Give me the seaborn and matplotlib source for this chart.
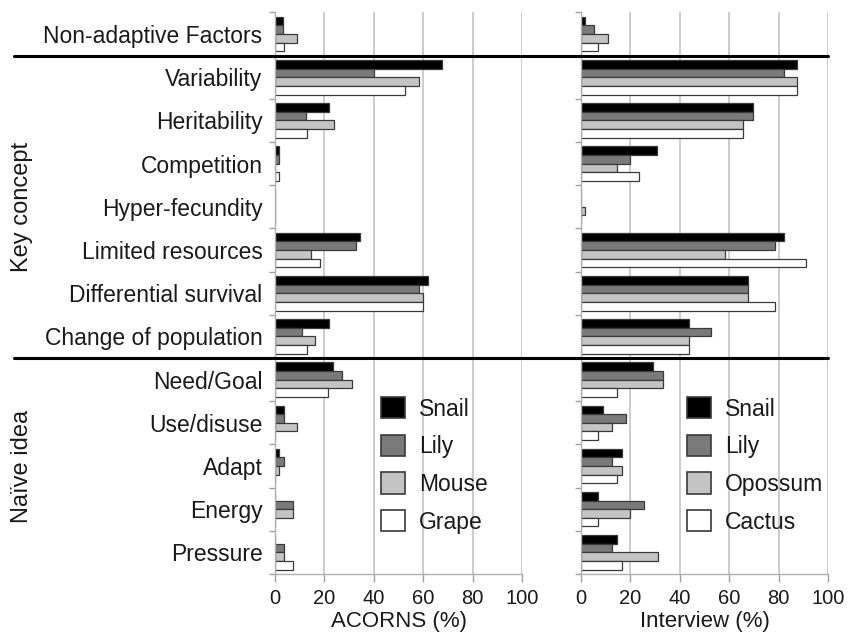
import pandas as pd
import numpy as np
import matplotlib.pyplot as plt
import matplotlib.patches as mpatches
import matplotlib.transforms as mtransforms
import seaborn as sns

categories = ["Non-adaptive Factors", "Variability", "Heritability", "Competition",
              "Hyper-fecundity", "Limited resources", "Differential survival",
              "Change of population", "Need/Goal", "Use/disuse", "Adapt", "Energy", "Pressure"]

acorns_groups = ["Snail", "Lily", "Mouse", "Grape"]
acorns_snail = [3.4, 67.5, 21.7, 1.8, 0, 34.4, 62.0, 21.7, 23.6, 3.6, 1.8, 0, 0]
acorns_lily = [3.4, 40.0, 12.6, 1.8, 0, 32.8, 58.2, 10.9, 27.1, 3.6, 3.6, 7.4, 3.6]
acorns_mouse = [9.0, 58.4, 23.9, 0, 0, 14.4, 59.8, 16.0, 31.0, 9.0, 1.8, 7.4, 3.6]
acorns_grape = [3.6, 52.8, 12.8, 1.8, 0, 18.2, 59.8, 12.8, 21.6, 0, 0, 0, 7.4]

interview_groups = ["Snail", "Lily", "Opossum", "Cactus"]
interview_snail = [1.6, 87.4, 69.5, 30.8, 0, 82.0, 67.6, 43.8, 29.2, 8.9, 16.5, 7.0, 14.5]
interview_lily = [5.4, 82.0, 69.5, 19.9, 0, 78.6, 67.6, 52.7, 33.0, 18.1, 12.7, 25.4, 12.7]
interview_opossum = [10.8, 87.4, 65.7, 14.5, 1.6, 58.4, 67.6, 43.8, 33.0, 12.7, 16.5, 19.9, 31.0]
interview_cactus = [7.0, 87.4, 65.7, 23.6, 0, 91.2, 78.6, 43.8, 14.5, 7.0, 14.5, 7.0, 16.5]

fills = ["#000000", "#7a7a7a", "#c4c4c4", "#ffffff"]
edge = "#3a3a3a"


def long_table(groups, series):
    rows = []
    for g, vals in zip(groups, series):
        for c, v in zip(categories, vals):
            rows.append({"Item": c, "Group": g, "Percent": v})
    return pd.DataFrame(rows)


acorns = long_table(acorns_groups, [acorns_snail, acorns_lily, acorns_mouse, acorns_grape])
interview = long_table(interview_groups, [interview_snail, interview_lily, interview_opossum, interview_cactus])

sns.set_style("white")
plt.rcParams["font.family"] = ["Liberation Sans", "DejaVu Sans"]
plt.rcParams["text.color"] = "#1a1a1a"
plt.rcParams["xtick.color"] = "#a0a0a0"
plt.rcParams["ytick.color"] = "#a0a0a0"
plt.rcParams["xtick.labelcolor"] = "#1a1a1a"
plt.rcParams["ytick.labelcolor"] = "#1a1a1a"
plt.rcParams["axes.labelcolor"] = "#1a1a1a"

fig = plt.figure(figsize=(8.61, 6.43), dpi=100)
ax1 = fig.add_axes([0.3194, 0.1073, 0.2869, 0.8733])
ax2 = fig.add_axes([0.6748, 0.1073, 0.2869, 0.8733])

panels = [(ax1, acorns, acorns_groups, "ACORNS (%)"),
          (ax2, interview, interview_groups, "Interview (%)")]

for ax, df, groups, label in panels:
    sns.barplot(data=df, y="Item", x="Percent", hue="Group", order=categories,
                hue_order=groups, palette=dict(zip(groups, fills)), orient="h",
                width=0.8, edgecolor=edge, linewidth=0.9, legend=False, ax=ax)
    ax.set_xlim(0, 100)
    ax.set_ylim(len(categories) - 0.5, -0.5)
    ax.set_xticks([0, 20, 40, 60, 80, 100])
    ax.set_axisbelow(True)
    ax.xaxis.grid(True, color="#c8c8c8", linewidth=1.3)
    ax.yaxis.grid(False)
    for s in ["top", "right"]:
        ax.spines[s].set_visible(False)
    for s in ["left", "bottom"]:
        ax.spines[s].set_color("#b0b0b0")
        ax.spines[s].set_linewidth(1.0)
    ax.set_yticks(np.arange(-0.5, len(categories), 1), minor=True)
    ax.tick_params(axis="x", length=6, width=1, labelsize=14.5, pad=5, bottom=True)
    ax.tick_params(axis="y", which="major", length=0, labelsize=16.5, pad=9)
    ax.tick_params(axis="y", which="minor", length=4, width=1, left=True)
    ax.set_ylabel("")
    ax.set_xlabel(label, fontsize=16, labelpad=2)
    handles = [mpatches.Patch(facecolor=f, edgecolor=edge, linewidth=1.2, label=g)
               for g, f in zip(groups, fills)]
    ax.legend(handles=handles, loc="upper left", bbox_to_anchor=(0.43, 0.315),
              frameon=False, fontsize=16.5, handlelength=1.05, handleheight=1.05,
              handletextpad=0.6, labelspacing=0.62, borderpad=0, borderaxespad=0)

ax2.tick_params(axis="y", which="major", labelleft=False)

# group separators run across both panels and the label column
sep = mtransforms.blended_transform_factory(ax2.transAxes, ax2.transData)
for yb in [0.5, 7.5]:
    ax2.plot([-2.296, 1.0], [yb, yb], transform=sep, color="black",
             linewidth=2.2, clip_on=False, zorder=10)

lab = mtransforms.blended_transform_factory(ax1.transAxes, ax1.transData)
ax1.text(-1.024, 4, "Key concept", transform=lab, rotation=90,
         ha="center", va="center", fontsize=17)
ax1.text(-1.024, 10, "Naïve idea", transform=lab, rotation=90,
         ha="center", va="center", fontsize=17)

fig.savefig("out.png", dpi=100)
